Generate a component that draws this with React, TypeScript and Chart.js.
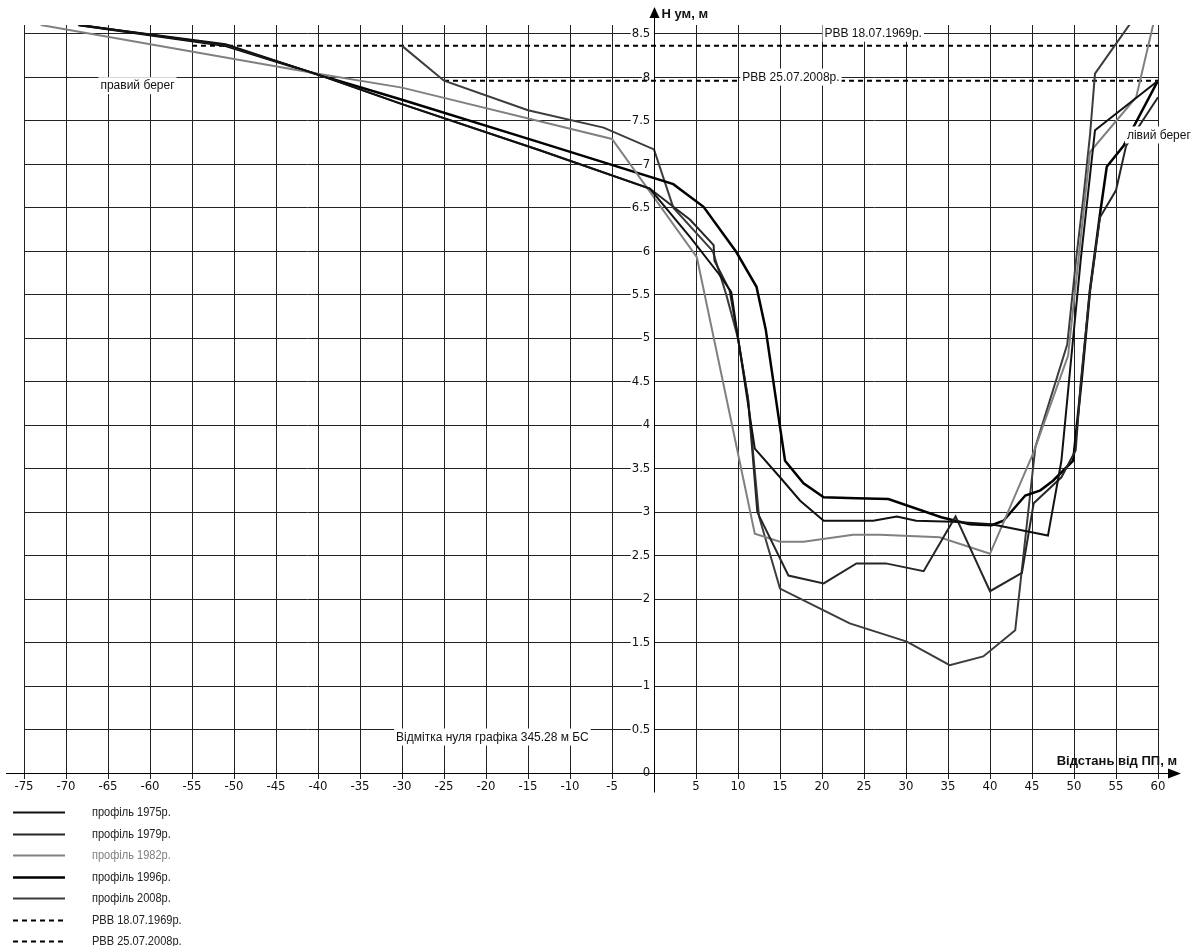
import React, { useEffect, useRef } from 'react';
import { Chart, registerables } from 'chart.js';

Chart.register(...registerables);

// ---------------- data ----------------
const seriesLabels = [
  'профіль 1975р.',
  'профіль 1979р.',
  'профіль 1982р.',
  'профіль 1996р.',
  'профіль 2008р.',
  'РВВ 18.07.1969р.',
  'РВВ 25.07.2008р.',
];

const x1975 = [-68.5, -51, -40, -30, -13.6, -0.5, 4.3, 7.7, 9.2, 10, 12, 15, 17.4, 20.2, 26.1, 28.9, 31.2, 35.6, 40.2, 46.9, 48.5, 49.6, 50.8, 52.5, 60];
const h1975 = [8.6, 8.38, 8.03, 7.69, 7.16, 6.72, 6.16, 5.74, 5.53, 5.0, 3.73, 3.4, 3.13, 2.9, 2.9, 2.95, 2.9, 2.89, 2.86, 2.73, 3.59, 4.7, 5.9, 7.39, 7.96];

const x1979 = [-68.5, -51, -40, -30, -13.6, -0.5, 4.3, 7.1, 7.2, 9.0, 10, 11.2, 12.3, 16, 20.2, 24.1, 27.6, 32.1, 35.9, 40, 43.8, 45.2, 48.5, 50.2, 50.8, 51.9, 53.1, 55, 56.2, 60];
const h1979 = [8.6, 8.37, 8.03, 7.69, 7.16, 6.72, 6.36, 6.07, 5.89, 5.55, 5.0, 4.3, 3.0, 2.27, 2.18, 2.41, 2.41, 2.32, 2.95, 2.09, 2.3, 3.1, 3.4, 3.71, 4.48, 5.55, 6.39, 6.7, 7.21, 7.77];

const x1982 = [-73, -40, -30, -5, 5.1, 12, 15, 17.8, 23.7, 26.9, 34, 40, 45.2, 49.3, 51.9, 57.4, 60];
const h1982 = [8.6, 8.04, 7.88, 7.29, 5.93, 2.75, 2.66, 2.66, 2.74, 2.74, 2.71, 2.52, 3.69, 4.8, 7.14, 7.77, 8.84];

const x1996 = [-68.5, -51, -40, -30, -13.6, 2.3, 5.9, 9.8, 12.2, 13.3, 15, 15.6, 17.8, 20.2, 24.1, 27.9, 34.2, 37.6, 40.2, 41.6, 44.2, 46, 47.5, 49.9, 50.9, 51.9, 53.1, 53.9, 55.9, 60];
const h1996 = [8.6, 8.36, 8.03, 7.74, 7.25, 6.77, 6.51, 5.99, 5.59, 5.1, 3.98, 3.59, 3.33, 3.17, 3.16, 3.15, 2.94, 2.86, 2.85, 2.9, 3.19, 3.25, 3.36, 3.59, 4.51, 5.55, 6.43, 6.97, 7.21, 7.96];

const x2008 = [-30, -25, -15, -6, 0, 2.3, 7, 8.6, 10, 11.2, 12.5, 15, 20.2, 23.3, 30.1, 35.2, 39.2, 43, 45.4, 49.2, 50.3, 51.1, 51.9, 52.5, 60];
const h2008 = [8.36, 7.96, 7.62, 7.42, 7.17, 6.5, 6.0, 5.5, 5.0, 4.3, 2.95, 2.12, 1.87, 1.72, 1.51, 1.24, 1.34, 1.64, 3.75, 4.93, 5.95, 6.6, 7.33, 8.04, 9.07];

const xWater1969 = [-55, 60];
const hWater1969 = [8.36, 8.36];
const xWater2008 = [-25, 60];
const hWater2008 = [7.96, 7.96];

const xMin = -75;
const xMax = 60;
const xStep = 5;
const yMin = 0;
const yMax = 8.6;
const yStep = 0.5;

const yAxisTitle = 'Н ум, м';
const xAxisTitle = 'Відстань від ПП, м';
const zeroNote = 'Відмітка нуля графіка 345.28 м БС';
const rightBank = 'правий берег';
const leftBank = 'лівий берег';

// ---------------- styles ----------------
const W = 1200;
const H = 946;
const NARROW = "'Liberation Sans Narrow', 'Arial Narrow', 'DejaVu Sans Condensed', 'Liberation Sans', sans-serif";
const SANS = "'Liberation Sans', Arial, sans-serif";

const colors = ['#111111', '#262626', '#808080', '#000000', '#3c3c3c', '#000000', '#000000'];
const widths = [2, 2, 2, 2.5, 2, 2, 2];
const dashes: number[][] = [[], [], [], [], [], [5, 4], [5, 4]];

const zip = (xs: number[], ys: number[]) => xs.map((x, i) => ({ x, y: ys[i] }));
const seriesData = [
  zip(x1975, h1975),
  zip(x1979, h1979),
  zip(x1982, h1982),
  zip(x1996, h1996),
  zip(x2008, h2008),
  zip(xWater1969, hWater1969),
  zip(xWater2008, hWater2008),
];

function boxedText(ctx: CanvasRenderingContext2D, text: string, left: number, midY: number, font: string) {
  ctx.save();
  ctx.font = font;
  const w = ctx.measureText(text).width;
  ctx.fillStyle = '#fff';
  ctx.fillRect(left - 2, midY - 9, w + 4, 17);
  ctx.fillStyle = '#111';
  ctx.textAlign = 'left';
  ctx.textBaseline = 'middle';
  ctx.fillText(text, left, midY);
  ctx.restore();
}

const overlay = {
  id: 'overlay',
  afterDatasetsDraw(chart: any) {
    const { ctx, scales } = chart;
    const xs = scales.x;
    const ys = scales.y;
    const f = `12px ${SANS}`;
    boxedText(ctx, rightBank, xs.getPixelForValue(-65.9), ys.getPixelForValue(8) + 9, f);
    boxedText(ctx, leftBank, xs.getPixelForValue(56.3), ys.getPixelForValue(7.33), f);
    boxedText(ctx, seriesLabels[5], xs.getPixelForValue(20.3), ys.getPixelForValue(8.5), f);
    boxedText(ctx, seriesLabels[6], xs.getPixelForValue(10.5), ys.getPixelForValue(7.96) - 3, f);
    boxedText(ctx, zeroNote, xs.getPixelForValue(-30.7), ys.getPixelForValue(0.5) + 8, f);
  },
  afterDraw(chart: any) {
    const { ctx, scales, chartArea } = chart;
    const xs = scales.x;
    const ys = scales.y;
    const x0 = Math.round(xs.getPixelForValue(0)) + 0.5;
    const y0 = Math.round(ys.getPixelForValue(0)) + 0.5;
    ctx.save();
    ctx.strokeStyle = '#000';
    ctx.fillStyle = '#000';
    ctx.lineWidth = 1;
    // x axis with arrow
    ctx.beginPath();
    ctx.moveTo(6, y0);
    ctx.lineTo(chartArea.right + 12, y0);
    ctx.stroke();
    ctx.beginPath();
    ctx.moveTo(chartArea.right + 10, y0 - 5);
    ctx.lineTo(chartArea.right + 23, y0);
    ctx.lineTo(chartArea.right + 10, y0 + 5);
    ctx.closePath();
    ctx.fill();
    // y axis with arrow
    ctx.beginPath();
    ctx.moveTo(x0, y0 + 19);
    ctx.lineTo(x0, 16);
    ctx.stroke();
    ctx.beginPath();
    ctx.moveTo(x0 - 5, 18);
    ctx.lineTo(x0, 7);
    ctx.lineTo(x0 + 5, 18);
    ctx.closePath();
    ctx.fill();
    // axis titles
    ctx.font = `bold 13px ${SANS}`;
    ctx.textBaseline = 'middle';
    ctx.textAlign = 'left';
    ctx.fillStyle = '#111';
    ctx.fillText(yAxisTitle, x0 + 7, 14);
    ctx.textAlign = 'right';
    ctx.fillText(xAxisTitle, chartArea.right + 19, y0 - 12);
    // legend
    const ds = chart.data.datasets;
    ctx.textAlign = 'left';
    ctx.font = `12px ${SANS}`;
    ds.forEach((d: any, i: number) => {
      const ry = Math.round(chartArea.bottom + 39 + i * 21.5) + 0.5;
      ctx.save();
      ctx.strokeStyle = d.borderColor;
      ctx.lineWidth = d.borderWidth;
      ctx.setLineDash(d.borderDash || []);
      ctx.beginPath();
      ctx.moveTo(13, ry);
      ctx.lineTo(65, ry);
      ctx.stroke();
      ctx.restore();
      ctx.save();
      ctx.fillStyle = i === 2 ? '#808080' : '#222';
      ctx.translate(92, ry);
      ctx.scale(0.92, 1);
      ctx.fillText(d.label, 0, 0);
      ctx.restore();
    });
    ctx.restore();
  },
};

export default function App() {
  const ref = useRef<HTMLCanvasElement>(null);
  useEffect(() => {
    const canvas = ref.current;
    if (!canvas) return;
    const chart = new Chart(canvas, {
      type: 'line',
      data: {
        datasets: seriesData.map((d, i) => ({
          label: seriesLabels[i],
          data: d,
          borderColor: colors[i],
          backgroundColor: colors[i],
          borderWidth: widths[i],
          borderDash: dashes[i],
          pointRadius: 0,
          fill: false,
          tension: 0,
        })),
      },
      options: {
        responsive: false,
        animation: false,
        devicePixelRatio: 1,
        layout: { padding: { left: 24, top: 25, right: 42, bottom: 173 } },
        plugins: { legend: { display: false }, tooltip: { enabled: false } },
        scales: {
          x: {
            type: 'linear',
            min: xMin,
            max: xMax,
            position: { y: 0 },
            ticks: {
              stepSize: xStep,
              autoSkip: false,
              maxRotation: 0,
              includeBounds: false,
              padding: 1,
              color: '#111',
              font: { family: NARROW, size: 13 },
              callback: (v: any) => (v === 0 ? '' : String(v)),
            },
            grid: { color: '#222', lineWidth: 1, tickLength: 5, drawTicks: true },
            border: { display: true, color: '#000', width: 1 },
          },
          y: {
            type: 'linear',
            min: yMin,
            max: yMax,
            position: { x: 0 },
            ticks: {
              stepSize: yStep,
              autoSkip: false,
              includeBounds: false,
              color: '#111',
              font: { family: NARROW, size: 13 },
              showLabelBackdrop: (c: any) => c.tick && c.tick.value !== 0,
              backdropColor: '#fff',
              backdropPadding: { left: 1, right: 1, top: 0, bottom: 0 },
              callback: (v: any) => String(v) + ' ',
            },
            grid: { color: '#222', lineWidth: 1, tickLength: 5, drawTicks: true },
            border: { display: true, color: '#000', width: 1 },
          },
        },
      } as any,
      plugins: [overlay],
    });
    return () => chart.destroy();
  }, []);
  return (
    <div style={{ position: 'fixed', left: 0, top: 0, width: W, height: H, background: '#fff' }}>
      <canvas ref={ref} width={W} height={H} style={{ display: 'block', width: W, height: H }} />
    </div>
  );
}
